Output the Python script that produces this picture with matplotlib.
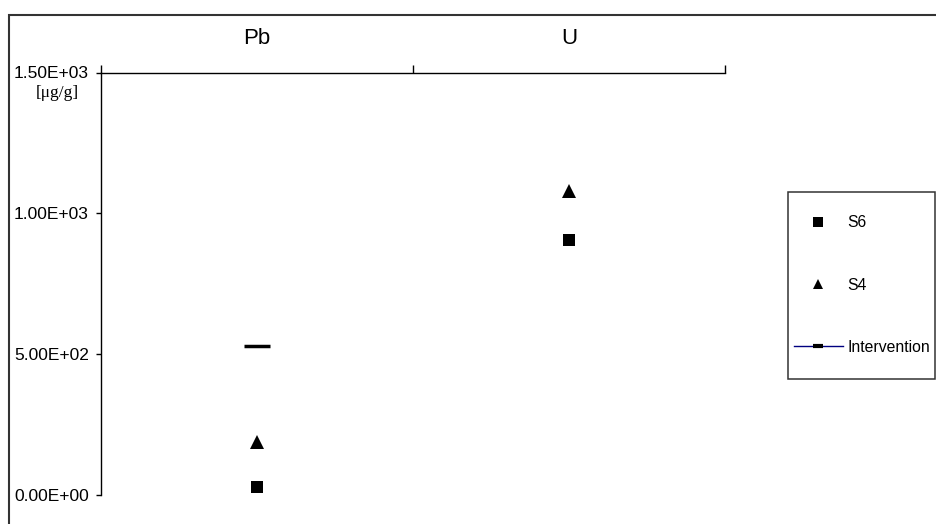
import numpy as np
import matplotlib
matplotlib.use("Agg")
import matplotlib.pyplot as plt
from matplotlib.lines import Line2D
from matplotlib.patches import Rectangle
from matplotlib.ticker import FuncFormatter

# concentrations in ug/g
elements = ["Pb", "U"]
s6 = [30, 905]
s4 = [190, 1078]
intervention = [530, np.nan]
yticks = [0, 500, 1000, 1500]

plt.rcParams['font.family'] = ['Liberation Sans', 'DejaVu Sans']

W, H = 936, 524
fig = plt.figure(figsize=(W / 100, H / 100), dpi=100)
ax = fig.add_axes([101 / W, 1 - 495.4 / H, (725 - 101) / W, (495.4 - 72.5) / H])

x = np.arange(1, len(elements) + 1)
ax.plot(x, s6, ls='none', marker='s', ms=9, color='black', mew=0, clip_on=False)
ax.plot(x, s4, ls='none', marker='^', ms=10, color='black', mew=0, clip_on=False)
ax.plot(x, intervention, color='navy', lw=1, marker='_', ms=19,
        mec='black', mew=2.5, clip_on=False)

ax.set_xlim(0.5, len(elements) + 0.5)
ax.set_ylim(yticks[0], yticks[-1])
ax.set_yticks(yticks)
ax.yaxis.set_major_formatter(FuncFormatter(lambda v, p: f"{v:.2E}"))
ax.tick_params(axis='y', direction='out', length=3.8, width=1, pad=5, labelsize=12.5)

# category axis sits on top, labels centred between the boundary ticks
ax.xaxis.tick_top()
ax.set_xticks(np.arange(0.5, len(elements) + 1, 1.0))
ax.set_xticklabels([])
ax.set_xticks(x, minor=True)
ax.set_xticklabels(elements, minor=True)
ax.tick_params(axis='x', which='major', direction='out', length=5.5, width=1)
ax.tick_params(axis='x', which='minor', length=0, pad=17, labelsize=16)

ax.spines['bottom'].set_visible(False)
ax.spines['right'].set_visible(False)
for s in ('top', 'left'):
    ax.spines[s].set_linewidth(1)
    ax.spines[s].set_color('black')

fig.text(57 / W, 1 - 93 / H, "[\u03bcg/g]", family='Liberation Serif', size=12.5,
         ha='center', va='center')

# chart area border
fig.add_artist(Rectangle((8.5 / W, -0.1), 1.2, 1 - 15 / H + 0.1, transform=fig.transFigure,
                         fill=False, ec='#333333', lw=1.5))

# legend box
fig.add_artist(Rectangle((788 / W, 1 - 379 / H), 147 / W, 187 / H, transform=fig.transFigure,
                         fill=False, ec='#333333', lw=1.1))
handles = [
    Line2D([], [], ls='none', marker='s', ms=6.5, color='black', mew=0),
    Line2D([], [], ls='none', marker='^', ms=7.5, color='black', mew=0),
    Line2D([], [], color='navy', lw=1, marker='_', ms=7, mec='black', mew=3),
]
fig.legend(handles, ['S6', 'S4', 'Intervention'], loc='center left',
           bbox_to_anchor=(794 / W, 1 - 285 / H), frameon=False, borderpad=0,
           borderaxespad=0, handlelength=3.1, handletextpad=0.3,
           labelspacing=3.0, fontsize=11.3)

fig.savefig('out.png', dpi=100)
